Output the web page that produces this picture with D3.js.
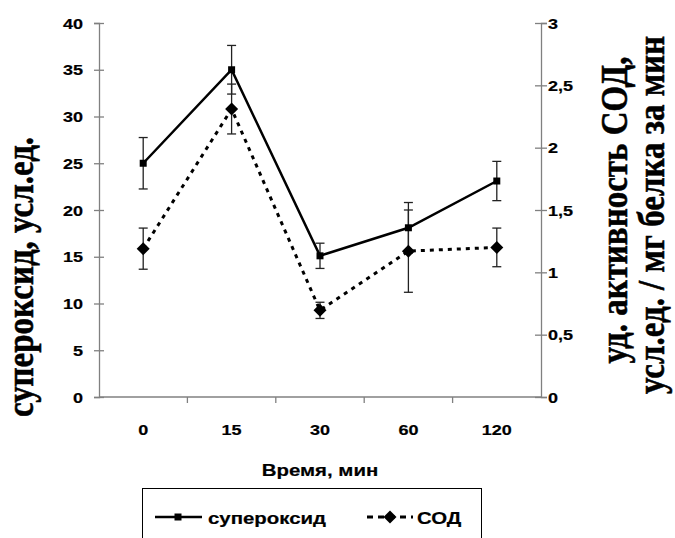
<!DOCTYPE html>
<html>
<head>
<meta charset="utf-8">
<script src="https://d3js.org/d3.v7.min.js"></script>
<style>
  body { margin: 0; background: #fff; }
  svg { display: block; }
</style>
</head>
<body>
<div id="chart"></div>
<script>
// data
const categories = ["0", "15", "30", "60", "120"];
const superoxide = [25, 35, 15.1, 18.1, 23.1];
const superoxideErr = [2.75, 2.6, 1.35, 2.7, 2.1];
const sod = [1.19, 2.31, 0.695, 1.17, 1.2];
const sodErr = [0.165, 0.2, 0.065, 0.33, 0.155];
const leftTicks = [0, 5, 10, 15, 20, 25, 30, 35, 40];
const rightTicks = [0, 0.5, 1, 1.5, 2, 2.5, 3];

const width = 675, height = 538;
const plot = { left: 99, right: 541, top: 23, bottom: 397 };
const stretch = 1.2;   // text in the reference is drawn wide
const sans = "'Liberation Sans', Arial, sans-serif";
const serif = "'Liberation Serif', 'Times New Roman', serif";

const svg = d3.select("#chart").append("svg")
  .attr("width", width)
  .attr("height", height);

const x = d3.scaleBand().domain(categories).range([plot.left, plot.right]);
const yL = d3.scaleLinear().domain([0, 40]).range([plot.bottom, plot.top]);
const yR = d3.scaleLinear().domain([0, 3]).range([plot.bottom, plot.top]);
const cx = d => x(d) + x.bandwidth() / 2;

function label(g, px, py, str, size, anchor) {
  return g.append("text")
    .attr("transform", `translate(${px},${py}) scale(${stretch},1)`)
    .attr("text-anchor", anchor || "middle")
    .style("font-family", sans)
    .style("font-weight", "bold")
    .style("font-size", size + "px")
    .attr("fill", "#000")
    .attr("stroke", "#000")
    .attr("stroke-width", 0.2)
    .text(str);
}

const axisColor = "#808080";

// left axis
const gl = svg.append("g").attr("transform", `translate(${plot.left},0)`);
gl.call(d3.axisLeft(yL).tickValues(leftTicks).tickSize(5).tickFormat(""));
gl.selectAll(".tick line").attr("x2", 5).attr("x1", -5);
gl.selectAll("path, line").attr("stroke", axisColor).attr("stroke-width", 1.3);
leftTicks.forEach(t => label(svg, 83, yL(t) + 5.5, String(t), 15, "end"));

// right axis
const gr = svg.append("g").attr("transform", `translate(${plot.right},0)`);
gr.call(d3.axisRight(yR).tickValues(rightTicks).tickSize(6).tickFormat(""));
gr.selectAll(".tick line").attr("x1", -6).attr("x2", 6);
gr.selectAll("path, line").attr("stroke", axisColor).attr("stroke-width", 1.3);
rightTicks.forEach(t => label(svg, 548, yR(t) + 5.5, String(t).replace(".", ","), 15, "start"));

// bottom axis: ticks between categories
const gb = svg.append("g");
gb.append("line")
  .attr("x1", plot.left).attr("x2", plot.right)
  .attr("y1", plot.bottom).attr("y2", plot.bottom)
  .attr("stroke", axisColor).attr("stroke-width", 1.3);
gb.selectAll("line.tk")
  .data(categories.slice(1))
  .enter().append("line")
  .attr("class", "tk")
  .attr("x1", d => x(d)).attr("x2", d => x(d))
  .attr("y1", plot.bottom).attr("y2", plot.bottom + 6)
  .attr("stroke", axisColor).attr("stroke-width", 1.3);
categories.forEach(c => label(svg, cx(c), 435, c, 15));

// axis titles
label(svg, 320, 476, "Время, мин", 17);

function title(px, py, str) {
  svg.append("text")
    .attr("transform", `translate(${px},${py}) rotate(-90) scale(1,1.12)`)
    .attr("text-anchor", "middle")
    .style("font-family", serif)
    .style("font-weight", "bold")
    .style("font-size", "33px")
    .attr("fill", "#000")
    .attr("stroke", "#000")
    .attr("stroke-width", 0.5)
    .text(str);
}
title(33, 277, "супероксид, усл.ед.");
title(627, 210, "уд. активность СОД,");
title(664, 215, "усл.ед. / мг белка за мин");

// error bars
function errorBars(vals, errs, y) {
  const g = svg.append("g").attr("stroke", "#222").attr("stroke-width", 1.3);
  categories.forEach((c, i) => {
    const top = y(vals[i] + errs[i]), bot = y(vals[i] - errs[i]);
    g.append("line").attr("x1", cx(c)).attr("x2", cx(c)).attr("y1", top).attr("y2", bot);
    g.append("line").attr("x1", cx(c) - 4.5).attr("x2", cx(c) + 4.5).attr("y1", top).attr("y2", top);
    g.append("line").attr("x1", cx(c) - 4.5).attr("x2", cx(c) + 4.5).attr("y1", bot).attr("y2", bot);
  });
}
errorBars(sod, sodErr, yR);
errorBars(superoxide, superoxideErr, yL);

const diamond = "M0,-6.5L6.5,0L0,6.5L-6.5,0Z";
const square = d3.symbol().type(d3.symbolSquare).size(49)();

// SOD line (dashed)
svg.append("path")
  .datum(sod)
  .attr("fill", "none")
  .attr("stroke", "#000")
  .attr("stroke-width", 3)
  .attr("stroke-dasharray", "4,5")
  .attr("d", d3.line().x((d, i) => cx(categories[i])).y(d => yR(d)));
svg.selectAll("path.sodpt")
  .data(sod)
  .enter().append("path")
  .attr("class", "sodpt")
  .attr("transform", (d, i) => `translate(${cx(categories[i])},${yR(d)})`)
  .attr("d", diamond)
  .attr("fill", "#000");

// superoxide line (solid)
svg.append("path")
  .datum(superoxide)
  .attr("fill", "none")
  .attr("stroke", "#000")
  .attr("stroke-width", 2.5)
  .attr("d", d3.line().x((d, i) => cx(categories[i])).y(d => yL(d)));
svg.selectAll("path.supt")
  .data(superoxide)
  .enter().append("path")
  .attr("class", "supt")
  .attr("transform", (d, i) => `translate(${cx(categories[i])},${yL(d)})`)
  .attr("d", square)
  .attr("fill", "#000");

// legend
const lg = svg.append("g");
lg.append("rect")
  .attr("x", 142.5).attr("y", 488.5)
  .attr("width", 339).attr("height", 80)
  .attr("fill", "#fff").attr("stroke", "#000").attr("stroke-width", 1);
lg.append("line").attr("x1", 155).attr("x2", 202).attr("y1", 517).attr("y2", 517)
  .attr("stroke", "#000").attr("stroke-width", 2.5);
lg.append("path").attr("transform", "translate(178,517)").attr("d", square).attr("fill", "#000");
label(lg, 208, 524, "супероксид", 17, "start");
lg.append("line").attr("x1", 367).attr("x2", 413).attr("y1", 517).attr("y2", 517)
  .attr("stroke", "#000").attr("stroke-width", 3).attr("stroke-dasharray", "6,5");
lg.append("path").attr("transform", "translate(390,517)").attr("d", diamond).attr("fill", "#000");
label(lg, 417, 524, "СОД", 17, "start");
</script>
</body>
</html>
